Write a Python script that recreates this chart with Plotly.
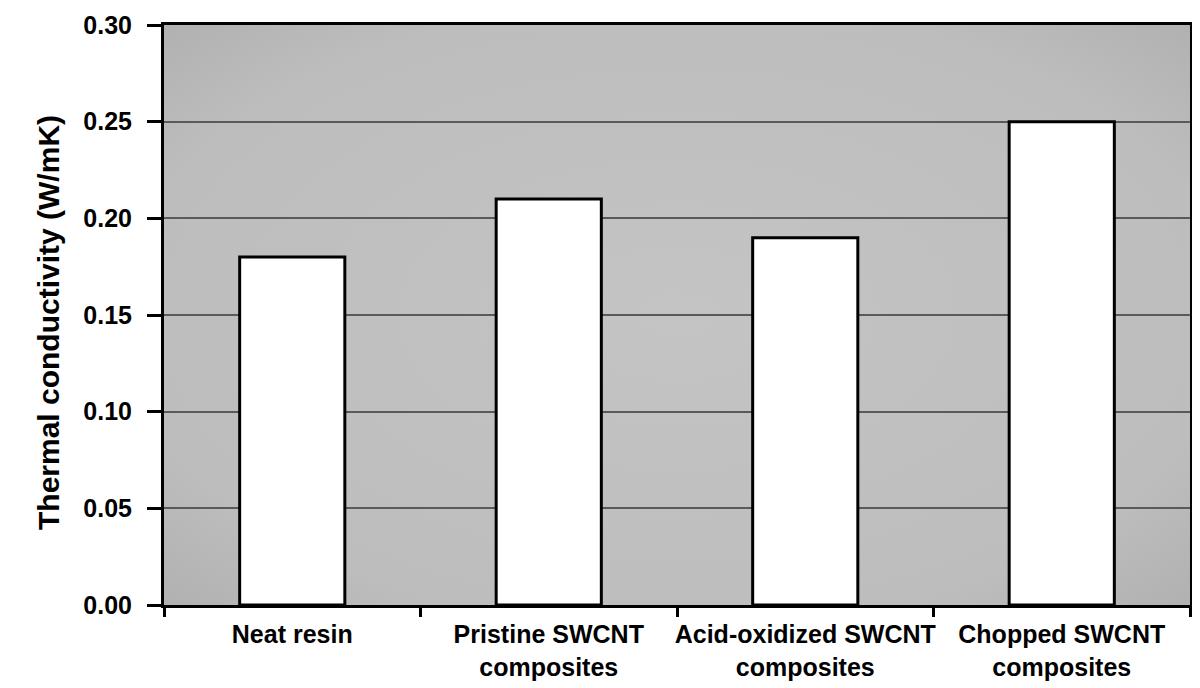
import base64
import plotly.graph_objects as go

categories = ["Neat resin<br> ", "Pristine SWCNT<br>composites",
              "Acid-oxidized SWCNT<br>composites", "Chopped SWCNT<br>composites"]
values = [0.18, 0.21, 0.19, 0.25]
y_ticks = [0.00, 0.05, 0.10, 0.15, 0.20, 0.25, 0.30]
y_tick_labels = ["0.00", "0.05", "0.10", "0.15", "0.20", "0.25", "0.30"]
y_title = "Thermal conductivity (W/mK)"

FONT = "Arial, Liberation Sans, sans-serif"

svg = ('<svg xmlns="http://www.w3.org/2000/svg" width="1000" height="600" preserveAspectRatio="none">'
       '<defs><radialGradient id="g" cx="50%" cy="50%" r="72%">'
       '<stop offset="0%" stop-color="#c4c4c4"/><stop offset="75%" stop-color="#bdbdbd"/>'
       '<stop offset="100%" stop-color="#b0b0b0"/></radialGradient></defs>'
       '<rect width="1000" height="600" fill="url(#g)"/></svg>')
svg_uri = "data:image/svg+xml;base64," + base64.b64encode(svg.encode()).decode()

fig = go.Figure()
fig.add_trace(go.Bar(
    x=categories, y=values,
    marker=dict(color="white", line=dict(color="black", width=3)),
    width=0.41,
))

fig.update_layout(
    width=1200, height=688,
    margin=dict(l=156, r=18, t=17, b=91),
    paper_bgcolor="white",
    plot_bgcolor="#bcbcbc",
    showlegend=False,
    font=dict(family=FONT, color="black", size=25, weight="bold"),
    images=[dict(source=svg_uri, xref="paper", yref="paper", x=0, y=1,
                 sizex=1, sizey=1, sizing="stretch", layer="below",
                 xanchor="left", yanchor="top")],
    annotations=[dict(text=y_title, textangle=-90, xref="paper", yref="paper",
                      x=(40 - 156) / 1026, y=(597 - 315) / 580,
                      xanchor="center", yanchor="middle", showarrow=False,
                      font=dict(family=FONT, size=30, color="black", weight="bold"))],
)

fig.update_xaxes(
    showline=True, linecolor="black", linewidth=3, mirror=True,
    ticks="outside", tickson="boundaries", ticklen=9, tickwidth=3, tickcolor="black",
    showgrid=False, tickangle=0, automargin=False,
    ticklabelstandoff=5,
    tickfont=dict(family=FONT, size=25, color="black", weight="bold"),
)
fig.update_yaxes(
    range=[0, 0.30],
    tickvals=y_ticks, ticktext=y_tick_labels,
    showline=True, linecolor="black", linewidth=3, mirror=True,
    ticks="outside", ticklen=14, tickwidth=3, tickcolor="black",
    showgrid=True, gridcolor="#5a5a5a", gridwidth=2,
    zeroline=False, automargin=False,
    ticklabelstandoff=10,
    tickfont=dict(family=FONT, size=25, color="black", weight="bold"),
)

fig.write_html("out.html")
